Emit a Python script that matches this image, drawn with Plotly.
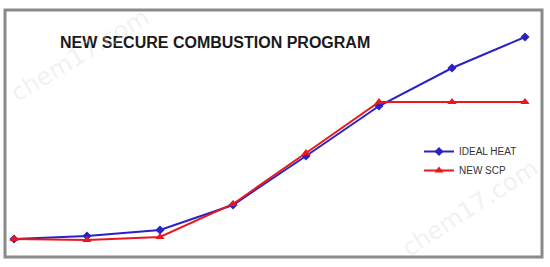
import plotly.graph_objects as go

steps = [1, 2, 3, 4, 5, 6, 7, 8]
ideal_heat = [11, 14, 20, 45, 94, 144, 182, 213]
new_scp = [11, 10, 13, 46, 97, 148, 148, 148]
series_names = ["IDEAL HEAT", "NEW SCP"]
title_text = "NEW SECURE COMBUSTION PROGRAM"

W, H = 550, 267
fl, fr, ft, fb = 5, 542, 10, 257  # frame pixels
x0_px, x7_px = 14, 525
ppu = (x7_px - x0_px) / 7.0
xr = [1 - (x0_px - fl) / ppu, 8 + (fr - x7_px) / ppu]


def px(x):
    return (x - fl) / (fr - fl)


def py(y):
    return (fb - y) / (fb - ft)


fig = go.Figure()
fig.add_trace(go.Scatter(
    x=steps, y=ideal_heat, name=series_names[0], mode="lines+markers",
    line=dict(color="#2A22C4", width=2),
    marker=dict(symbol="diamond", size=7, color="#2A22C4"),
    cliponaxis=False))
fig.add_trace(go.Scatter(
    x=steps, y=new_scp, name=series_names[1], mode="lines+markers",
    line=dict(color="#E8181E", width=2),
    marker=dict(symbol="triangle-up", size=8, color="#E8181E"),
    cliponaxis=False))

wm_font = dict(family="DejaVu Sans", size=24, color="rgba(215,215,215,0.35)")
fig.update_layout(
    width=W, height=H,
    margin=dict(l=fl, r=W - fr, t=ft, b=H - fb, pad=0),
    paper_bgcolor="white", plot_bgcolor="white",
    showlegend=True,
    legend=dict(x=px(419), y=py(137),
                xanchor="left", yanchor="top",
                font=dict(family="Liberation Sans, Arial", size=10, color="#333333"),
                itemwidth=30, bgcolor="rgba(0,0,0,0)", tracegroupgap=0),
    xaxis=dict(range=xr, visible=False, fixedrange=True),
    yaxis=dict(range=[250 - fb, 250 - ft], visible=False, fixedrange=True),
    shapes=[dict(type="rect", xref="paper", yref="paper", x0=0, x1=1, y0=0, y1=1,
                 line=dict(color="#8a8a8a", width=3))],
    annotations=[
        dict(text="<b>" + title_text + "</b>", xref="paper", yref="paper",
             x=px(58), y=py(42), xanchor="left", yanchor="middle",
             showarrow=False,
             font=dict(family="Liberation Sans, Arial", size=16, color="#1a1a1a")),
        dict(text="chem17.com", xref="paper", yref="paper",
             x=px(80), y=py(55), xanchor="center", yanchor="middle",
             showarrow=False, textangle=-31, font=wm_font),
        dict(text="chem17.com", xref="paper", yref="paper",
             x=px(470), y=py(208), xanchor="center", yanchor="middle",
             showarrow=False, textangle=-33, font=wm_font),
    ],
)

fig.write_html("out.html")
